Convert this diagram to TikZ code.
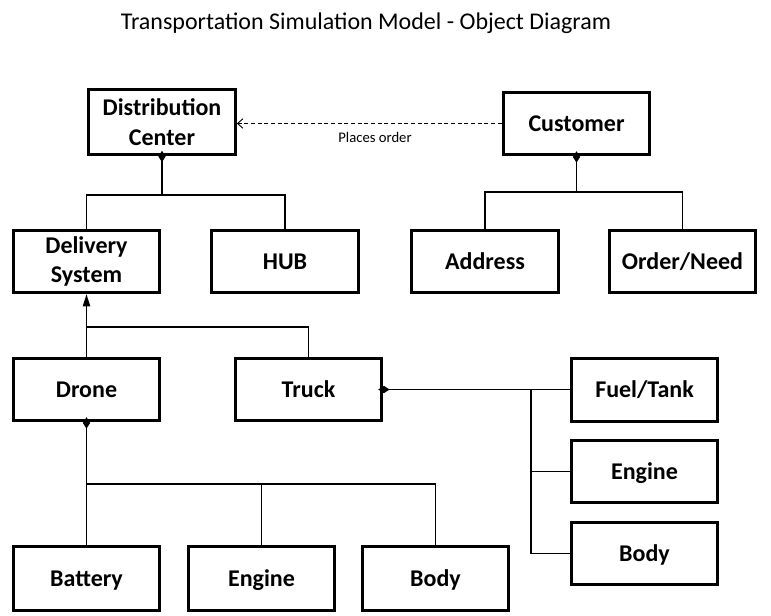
\documentclass[tikz,border=0pt]{standalone}
\usepackage{fontspec}
\setmainfont{Carlito}
\usetikzlibrary{arrows.meta}
\begin{document}
\begin{tikzpicture}[x=0.75pt,y=-0.75pt,
  box/.style={draw=black,line width=2.2pt,fill=white,minimum width=110pt,minimum height=47pt,
    align=center,inner sep=2pt,font=\fontsize{18pt}{22pt}\selectfont\bfseries},
  one/.style={box,text height=15pt,text depth=3.4pt},
  link/.style={draw=black,line width=0.9pt},
  comp/.style={link,{Diamond[length=8.5pt,width=5.5pt]}-,shorten <=-3.8pt},
  gen/.style={link,-{Triangle[length=9pt,width=5.5pt]}},
  dep/.style={link,dashed,dash pattern=on 3pt off 2pt,line width=0.7pt,-{Straight Barb[length=4pt,width=7pt]}}]
\useasboundingbox (0,0) rectangle (771,615);
\node (title) at (366,23) {\fontsize{18pt}{21pt}\selectfont Transportation Simulation Model - Object Diagram};
\node[box,minimum height=48.5pt] (dc) at (162,122) {Distribution\\Center};
\node[one] (customer) at (576.5,123.5) {Customer};
\node[box] (delivery) at (86.5,261.5) {Delivery\\System};
\node[one] (hub) at (285,261.5) {HUB};
\node[one] (address) at (485,261.5) {Address};
\node[one] (order) at (682.5,261.5) {Order/Need};
\node[one] (drone) at (86.5,389.5) {Drone};
\node[one] (truck) at (308.5,389.5) {Truck};
\node[one] (fuel) at (644.5,390) {Fuel/Tank};
\node[one] (enginer) at (644.5,471.5) {Engine};
\node[one] (bodyr) at (644.5,553.5) {Body};
\node[one,minimum height=48pt] (battery) at (86.5,578.5) {Battery};
\node[one,minimum height=48pt] (engineb) at (261.5,578.5) {Engine};
\node[one,minimum height=48pt] (bodyb) at (435.5,578.5) {Body};
% dependency
\draw[dep] (customer.west) -- (customer.west -| dc.east);
\node[font=\fontsize{11pt}{13pt}\selectfont] (lbl) at (375,137) {Places order};
% distribution center composition
\coordinate (j1) at (162,195);
\draw[comp] (dc.south) -- (j1);
\draw[link] (j1) -| (delivery.north);
\draw[link] (j1) -| (hub.north);
% customer composition
\coordinate (j2) at (576.5,192);
\draw[comp] (customer.south) -- (j2);
\draw[link] (j2) -| (address.north);
\draw[link] (j2) -| (order.north);
% generalization
\coordinate (gj) at (86.5,327);
\draw[gen] (drone.north) -- (delivery.south);
\draw[link] (truck.north) |- (gj);
% drone composition
\coordinate (dj) at (86.5,484);
\draw[comp] (drone.south) -- (dj);
\draw[link] (dj) -| (battery.north);
\draw[link] (dj) -| (engineb.north);
\draw[link] (dj) -| (bodyb.north);
% truck composition
\coordinate (tj) at (531,389.5);
\draw[comp] (truck.east) -- (truck.east -| fuel.west);
\draw[link] (tj) |- (enginer.west);
\draw[link] (tj) |- (bodyr.west);
\end{tikzpicture}
\end{document}
